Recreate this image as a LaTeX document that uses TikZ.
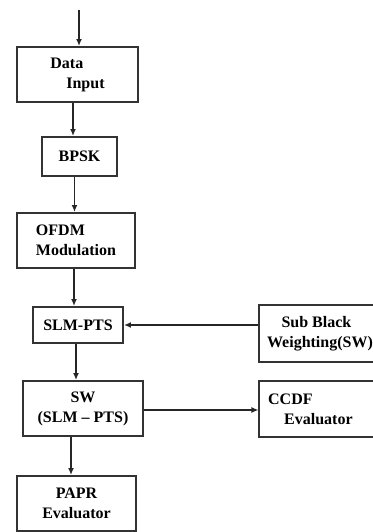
\documentclass[tikz,border=0pt]{standalone}
\usepackage{fontspec}
\setmainfont{Liberation Serif}
\usetikzlibrary{arrows.meta}
\tikzset{blk/.style={draw=black!80,line width=1pt,fill=white,font=\fontsize{8}{10}\selectfont\bfseries,inner sep=1pt},
 arr/.style={draw=black!85,line width=0.7pt,-{Latex[length=3.5pt,width=3pt]}},
 }

\begin{document}
\begin{tikzpicture}[x=0.5pt,y=-0.5pt]
        \useasboundingbox (0,0) rectangle (373,532);
        \clip (0,0) rectangle (373,532);
        \coordinate (in) at (79,10);
        \node[blk,minimum width=60.5pt,minimum height=27.5pt,align=left] (data) at (77.5,74.5) {Data\\\hspace*{1em}Input};
        \node[blk,minimum width=37.5pt,minimum height=19.5pt] (bpsk) at (79.5,156.5) {BPSK};
        \node[blk,minimum width=59pt,minimum height=27.5pt,align=left] (ofdm) at (76,240.5) {OFDM\\Modulation};
        \node[blk,minimum width=45pt,minimum height=18pt] (slm) at (78,325) {SLM-PTS};
        \node[blk,minimum width=60.5pt,minimum height=28.5pt,align=left] (sub) at (320,333.5) {\hspace*{0.9em}Sub Black\\Weighting(SW)};
        \node[blk,minimum width=60pt,minimum height=27.5pt,align=center] (sw) at (83,408.5) {SW\\(SLM -- PTS)};
        \node[blk,minimum width=60.5pt,minimum height=28pt,align=left] (ccdf) at (320,409) {CCDF\\\hspace*{1em}Evaluator\hspace*{1.2em}};
        \node[blk,minimum width=59.5pt,minimum height=27.5pt,align=center] (papr) at (76.5,503.5) {PAPR\\Evaluator};

        \draw[arr] (in) -- (in |- data.north);
        \draw[arr] (data.south -| bpsk.west) ++(32,0) coordinate (d1) -- (d1 |- bpsk.north);
        \draw[arr] (bpsk.south) ++(-5,0) coordinate (b1) -- (b1 |- ofdm.north);
        \draw[arr] (ofdm.south) ++(-2,0) coordinate (o1) -- (o1 |- slm.north);
        \draw[arr] (sub.west |- slm.east) -- (slm.east);
        \draw[arr] (slm.south) ++(-2,0) coordinate (s1) -- (s1 |- sw.north);
        \draw[arr] (sw.east |- ccdf.west) ++(0,1) coordinate (w1) -- (w1 -| ccdf.west);
        \draw[arr] (sw.south) ++(-12,0) coordinate (w2) -- (w2 |- papr.north);
\end{tikzpicture}
\end{document}
